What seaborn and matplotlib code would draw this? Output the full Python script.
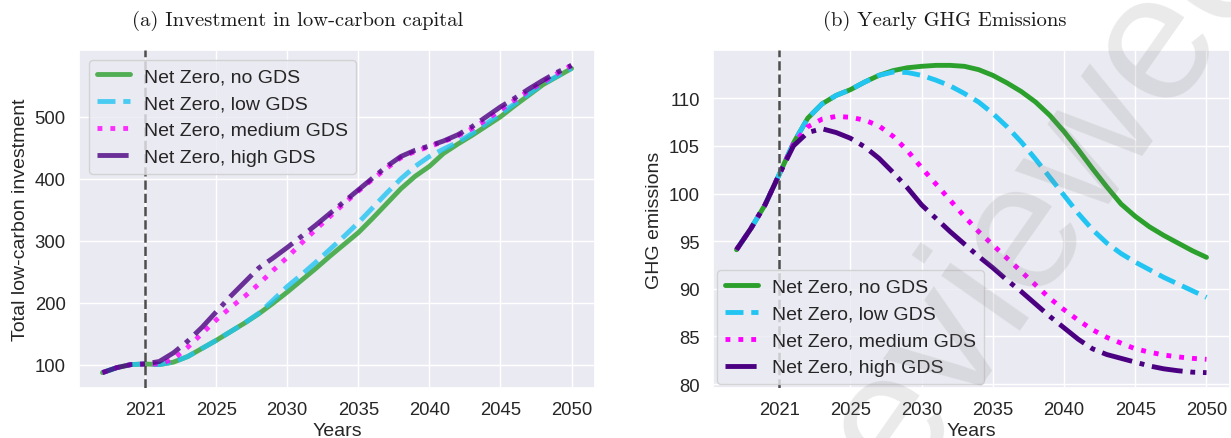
import numpy as np
import pandas as pd
import matplotlib
matplotlib.use("Agg")
import matplotlib.pyplot as plt
import seaborn as sns

# ---- data -------------------------------------------------------------
years = np.arange(2017, 2051)
tick_labels = ["2021", "2025", "2030", "2035", "2040", "2045", "2050"]
scenarios = ["Net Zero, no GDS", "Net Zero, low GDS",
             "Net Zero, medium GDS", "Net Zero, high GDS"]

inv_no = [87, 95, 100, 101, 100, 104, 113, 126, 139, 153, 167, 182, 199, 217,
          236, 255, 275, 294, 313, 336, 360, 384, 404, 420, 441, 456, 470, 485,
          500, 518, 535, 552, 565, 578]
inv_low = [87, 95, 100, 101, 100, 104, 113, 126, 139, 153, 167, 183, 204, 226,
           245, 265, 286, 307, 329, 353, 377, 400, 420, 436, 448, 459, 473, 489,
           505, 521, 537, 553, 566, 578]
inv_med = [87, 95, 100, 101, 101, 109, 128, 150, 172, 192, 210, 230, 252, 273,
           296, 318, 339, 360, 380, 399, 417, 434, 444, 452, 460, 469, 481, 495,
           511, 527, 542, 556, 570, 583]
inv_high = [87, 95, 100, 101, 105, 119, 138, 160, 185, 210, 233, 256, 272, 289,
            307, 325, 344, 363, 382, 401, 420, 436, 446, 453, 461, 471, 484, 500,
            516, 530, 545, 559, 572, 583]

ghg_no = [94.1, 96.3, 98.8, 102.0, 105.3, 107.9, 109.4, 110.3, 110.9, 111.7,
          112.4, 112.9, 113.2, 113.35, 113.45, 113.45, 113.35, 113.0, 112.4,
          111.6, 110.7, 109.6, 108.2, 106.5, 104.6, 102.6, 100.7, 98.9, 97.6,
          96.5, 95.6, 94.8, 94.0, 93.3]
ghg_low = [94.1, 96.3, 98.8, 102.0, 105.3, 107.9, 109.4, 110.3, 110.9, 111.7,
           112.4, 112.75, 112.7, 112.4, 111.9, 111.3, 110.5, 109.6, 108.4,
           107.0, 105.4, 103.6, 101.7, 99.8, 97.9, 96.2, 94.8, 93.7, 92.8,
           92.0, 91.2, 90.5, 89.8, 89.1]
ghg_med = [94.1, 96.3, 98.8, 102.0, 105.2, 107.0, 107.8, 108.1, 108.0, 107.7,
           107.1, 106.0, 104.5, 102.7, 101.0, 99.3, 97.6, 96.0, 94.6, 93.2,
           91.8, 90.4, 89.0, 87.8, 86.7, 85.7, 84.9, 84.3, 83.7, 83.35, 83.05,
           82.85, 82.7, 82.6]
ghg_high = [94.1, 96.3, 98.8, 102.0, 105.0, 106.4, 106.8, 106.4, 105.8, 104.9,
            103.7, 102.2, 100.6, 98.8, 97.4, 96.0, 94.7, 93.4, 92.2, 90.9,
            89.7, 88.4, 87.1, 85.9, 84.7, 83.7, 83.1, 82.7, 82.3, 81.9, 81.6,
            81.4, 81.25, 81.2]

# ---- style ------------------------------------------------------------
sns.set_theme(style="darkgrid")
plt.rcParams["font.family"] = ["Liberation Sans", "DejaVu Sans"]

colors = ["#2ca02c", "#22c5f2", "#ff00ff", "#4b0082"]
styles = ["-", "--", ":", "-."]

W, H = 1231, 439
fig = plt.figure(figsize=(W / 100, H / 100), dpi=100)
ax1 = fig.add_axes([79 / W, 1 - 389 / H, 516 / W, 338 / H])
ax2 = fig.add_axes([713 / W, 1 - 389 / H, 517 / W, 338 / H])

tick_pos = np.arange(2020, 2051, 5)


def draw(ax, series, alpha):
    for name, vals, c, ls in zip(scenarios, series, colors, styles):
        sns.lineplot(x=years, y=vals, ax=ax, color=c, linestyle=ls, lw=3.5,
                     alpha=alpha, label=name)
    ax.axvline(2020, color="0.3", linestyle="--", lw=1.8, zorder=3)
    ax.set_xticks(tick_pos)
    ax.set_xticklabels(tick_labels)
    ax.tick_params(labelsize=13.3, colors="0.15")
    ax.set_xlabel("Years", fontsize=14, color="0.15", labelpad=3)


draw(ax1, [inv_no, inv_low, inv_med, inv_high], 0.8)
ax1.set_yticks([100, 200, 300, 400, 500])
ax1.set_ylabel("Total low-carbon investment", fontsize=14, color="0.15")
ax1.legend(loc="upper left", fontsize=14, handlelength=1.7,
           labelspacing=0.48, handletextpad=0.75)

draw(ax2, [ghg_no, ghg_low, ghg_med, ghg_high], 1.0)
ax2.set_yticks([80, 85, 90, 95, 100, 105, 110])
ax2.set_ylabel("GHG emissions", fontsize=14, color="0.15")
ax2.legend(loc="lower left", fontsize=14, handlelength=1.7,
           labelspacing=0.48, handletextpad=0.75, borderaxespad=0.2)

# panel captions
fig.text(298 / W, 1 - 21 / H, "(a) Investment in low-carbon capital",
         family="cmr10", fontsize=14.8, ha="center", va="center", color="0.1")
fig.text(945 / W, 1 - 21 / H, "(b) Yearly GHG Emissions",
         family="cmr10", fontsize=14.8, ha="center", va="center", color="0.1")

# preprint watermark
fig.text(1246 / W, 1 - (-73) / H, "Preprint not peer reviewed", fontsize=130,
         rotation=55, rotation_mode="anchor", color="0.5", alpha=0.17,
         ha="right", va="center", family=["Liberation Sans"], zorder=10)

fig.savefig("out.png", dpi=100)
